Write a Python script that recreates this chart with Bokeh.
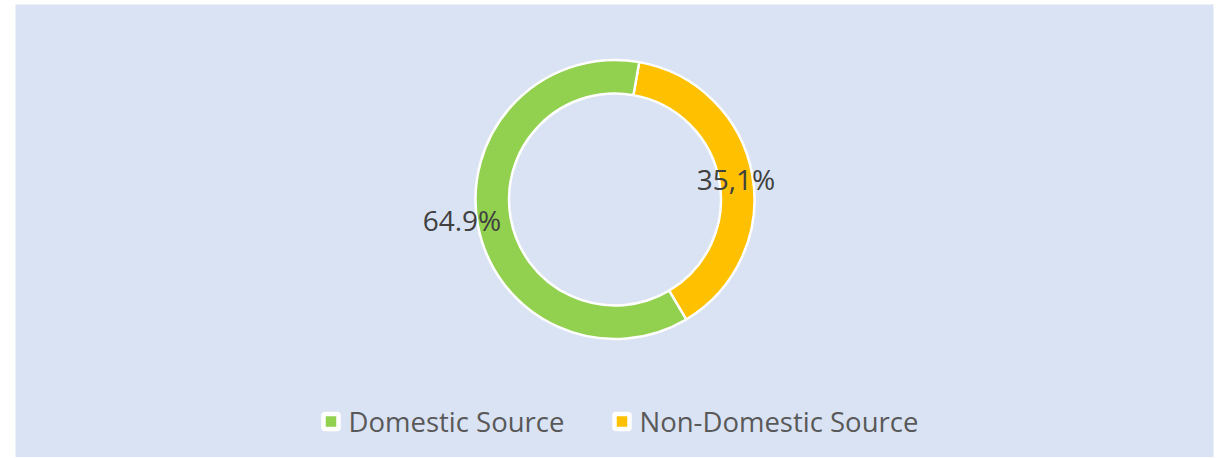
import numpy as np
from bokeh.plotting import figure
from bokeh.models import Range1d, ColumnDataSource
from bokeh.core.properties import value
from bokeh.embed import file_html
from bokeh.resources import INLINE

# ---- data ----
categories = ["Domestic Source", "Non-Domestic Source"]
shares = [61.3, 38.7]            # slice sizes as drawn in the ring
labels = ["64.9%", "35,1%"]      # data labels as printed
colors = ["#92D050", "#FFC000"]

# ---- layout ----
FRAME_W, FRAME_H = 1198, 453
p = figure(width=1215, height=457, output_backend="svg", toolbar_location=None,
           x_range=Range1d(0, FRAME_W), y_range=Range1d(0, FRAME_H),
           min_border_left=15, min_border_right=2, min_border_top=4, min_border_bottom=0)
p.background_fill_color = "#DAE3F3"
p.border_fill_color = "white"
p.outline_line_color = None
p.axis.visible = False
p.grid.visible = False

cx, cy = 599.5, 258.0
r_in, r_out = 106.0, 139.5
first_angle = 10.0   # degrees clockwise from 12 o'clock where the first drawn slice starts
order = [1, 0]       # clockwise drawing order

theta = first_angle
starts, ends, cols = [], [], []
for i in order:
    span = shares[i] / sum(shares) * 360.0
    t0, t1 = theta, theta + span
    starts.append(np.deg2rad(90.0 - t1))
    ends.append(np.deg2rad(90.0 - t0))
    cols.append(colors[i])
    theta = t1

src = ColumnDataSource(dict(x=[cx] * len(order), y=[cy] * len(order),
                            start=starts, end=ends, color=cols))
p.annular_wedge(x="x", y="y", inner_radius=r_in, outer_radius=r_out,
                start_angle="start", end_angle="end", source=src,
                fill_color="color", line_color="white", line_width=2.5)

# data labels
lab_src = ColumnDataSource(dict(x=[446.5, 720.5], y=[238.0, 279.0], text=labels))
p.text(x="x", y="y", text="text", source=lab_src, text_align="center",
       text_baseline="middle", text_font=value("Open Sans"),
       text_font_size="28px", text_color="#404040")

# legend
leg_src = ColumnDataSource(dict(sx=[315.5, 606.5], sy=[36.0, 36.0],
                                tx=[333.0, 624.0], color=colors, text=categories))
p.scatter(x="sx", y="sy", source=leg_src, marker="square", size=15,
          fill_color="color", line_color="white", line_width=4.5)
p.text(x="tx", y="sy", text="text", source=leg_src, text_align="left",
       text_baseline="middle", text_font=value("Open Sans"),
       text_font_size="27.5px", text_color="#595959")

open("out.html", "w").write(file_html(p, INLINE))
